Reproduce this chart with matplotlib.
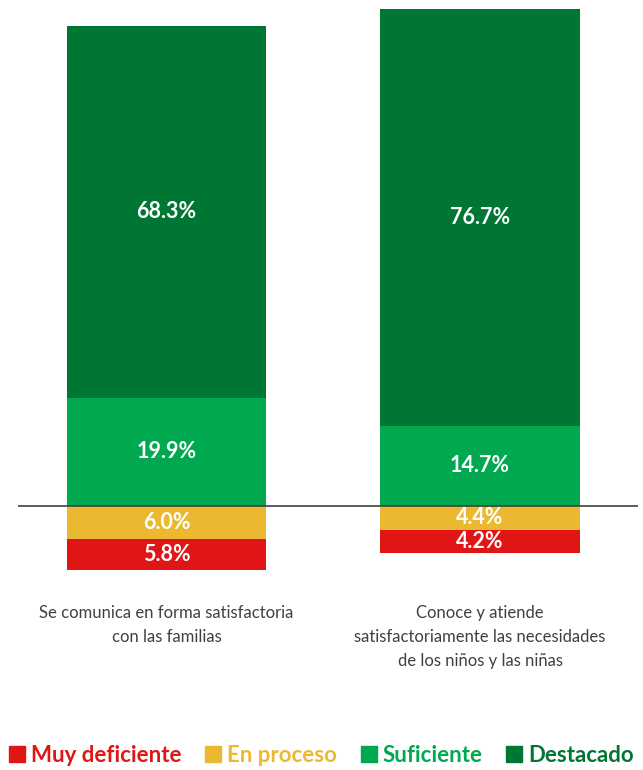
import matplotlib
matplotlib.use("Agg")
import matplotlib.pyplot as plt
from matplotlib.lines import Line2D

plt.rcParams['font.family'] = ['Lato', 'DejaVu Sans']

categories = ["Se comunica en forma satisfactoria\ncon las familias",
              "Conoce y atiende\nsatisfactoriamente las necesidades\nde los niños y las niñas"]
muy_deficiente = [5.8, 4.2]
en_proceso = [6.0, 4.4]
suficiente = [19.9, 14.7]
destacado = [68.3, 76.7]
series_names = ["Muy deficiente", "En proceso", "Suficiente", "Destacado"]
colors = ["#E01515", "#EBB92F", "#00A84F", "#007634"]

fig = plt.figure(figsize=(6.43, 7.70), dpi=100)
ax = fig.add_axes([18/643, 195/770, 620/643, 570/770])
x = list(range(len(categories)))
w = 0.635

# negative side
ax.bar(x, [-v for v in en_proceso], w, color=colors[1])
ax.bar(x, [-v for v in muy_deficiente], w, bottom=[-v for v in en_proceso], color=colors[0])
# positive side
ax.bar(x, suficiente, w, color=colors[2])
ax.bar(x, destacado, w, bottom=suficiente, color=colors[3])

lab_kw = dict(ha='center', va='center', color='white', fontsize=15.5, fontweight='bold')
for i in x:
    ax.text(i, suficiente[i] + destacado[i] / 2, f"{destacado[i]:.1f}%", **lab_kw)
    ax.text(i, suficiente[i] / 2, f"{suficiente[i]:.1f}%", **lab_kw)
    ax.text(i, -en_proceso[i] / 2, f"{en_proceso[i]:.1f}%", **lab_kw)
    ax.text(i, -en_proceso[i] - muy_deficiente[i] / 2, f"{muy_deficiente[i]:.1f}%", **lab_kw)

ax.axhline(0, color='#404040', lw=1.2)
ax.set_xlim((18 - 166.5) / 313.5, (638 - 166.5) / 313.5)
ax.set_ylim(-12.7, 92.1)
ax.axis('off')

for i, c in enumerate(categories):
    fig.text((166.5 + 313.5 * i) / 643, 1 - 605 / 770, c, ha='center', va='top',
             fontsize=12, color='#404040', linespacing=1.6)

handles = [Line2D([0], [0], marker='s', color='none', markerfacecolor=c, markeredgecolor=c,
                  markersize=11) for c in colors]
leg = fig.legend(handles, series_names, loc='center', bbox_to_anchor=(0.5, 15/770), ncol=4,
                 frameon=False, handlelength=0.7, handletextpad=0.25, columnspacing=1.1,
                 prop={'size': 16, 'weight': 'bold'})
for t, c in zip(leg.get_texts(), colors):
    t.set_color(c)

fig.savefig("out.png", dpi=100)
